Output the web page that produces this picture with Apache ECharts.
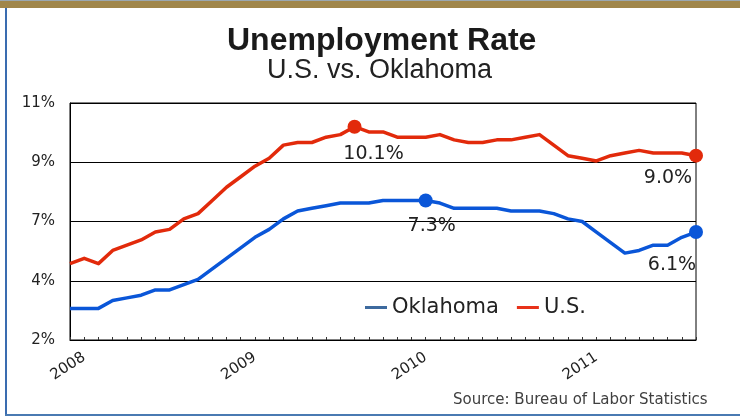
<!DOCTYPE html>
<html>
<head>
<meta charset="utf-8">
<script src="https://cdn.jsdelivr.net/npm/echarts@6/dist/echarts.min.js"></script>
<style>
html,body{margin:0;padding:0;background:#fff;}
#chart{width:740px;height:416px;}
</style>
</head>
<body>
<div id="chart"></div>
<script>
// ---- data ----
var months = [
  '2008-01','2008-02','2008-03','2008-04','2008-05','2008-06','2008-07','2008-08','2008-09','2008-10','2008-11','2008-12',
  '2009-01','2009-02','2009-03','2009-04','2009-05','2009-06','2009-07','2009-08','2009-09','2009-10','2009-11','2009-12',
  '2010-01','2010-02','2010-03','2010-04','2010-05','2010-06','2010-07','2010-08','2010-09','2010-10','2010-11','2010-12',
  '2011-01','2011-02','2011-03','2011-04','2011-05','2011-06','2011-07','2011-08','2011-09'
];
var yearLabels = ['2008','2009','2010','2011'];
var oklahomaRate = [
  3.2,3.2,3.2,3.5,3.6,3.7,3.9,3.9,4.1,4.3,4.7,5.1,
  5.5,5.9,6.2,6.6,6.9,7.0,7.1,7.2,7.2,7.2,7.3,7.3,
  7.3,7.3,7.2,7.0,7.0,7.0,7.0,6.9,6.9,6.9,6.8,6.6,
  6.5,6.1,5.7,5.3,5.4,5.6,5.6,5.9,6.1
];
var usRate = [
  4.9,5.1,4.9,5.4,5.6,5.8,6.1,6.2,6.6,6.8,7.3,7.8,
  8.2,8.6,8.9,9.4,9.5,9.5,9.7,9.8,10.1,9.9,9.9,9.7,
  9.7,9.7,9.8,9.6,9.5,9.5,9.6,9.6,9.7,9.8,9.4,9.0,
  8.9,8.8,9.0,9.1,9.2,9.1,9.1,9.1,9.0
];
var yTickLabels = ['2%','4%','7%','9%','11%'];
var oklahomaHighlights = [25, 44];
var usHighlights = [20, 44];

// ---- styling ----
var FONT = 'DejaVu Sans';
var BLUE = '#0a56d8';
var RED = '#e22a0b';
var labelOffsets = {
  'Oklahoma': {25: [6, 26], 44: [-24, 33]},
  'U.S.': {20: [19, 27], 44: [-28, 22]}
};

function buildData(name, values, highlights, color) {
  return values.map(function (v, i) {
    if (highlights.indexOf(i) >= 0) {
      return {
        value: v,
        symbol: 'circle',
        symbolSize: 14,
        itemStyle: {color: color},
        label: {
          show: true,
          position: 'inside',
          offset: labelOffsets[name][i],
          formatter: function (p) { return p.value.toFixed(1) + '%'; },
          fontFamily: FONT,
          fontSize: 19,
          color: '#222'
        }
      };
    }
    return {value: v, symbol: 'none'};
  });
}

var chart = echarts.init(document.getElementById('chart'), null, {renderer: 'canvas'});
var option = {
  animation: false,
  backgroundColor: '#fff',
  title: [
    {text: 'Unemployment Rate', left: 222, top: 20,
     textStyle: {fontFamily: 'Liberation Sans', fontWeight: 'bold', fontSize: 32, color: '#1a1a1a'}},
    {text: 'U.S. vs. Oklahoma', left: 262, top: 52,
     textStyle: {fontFamily: 'Liberation Sans', fontWeight: 'normal', fontSize: 27, color: '#222'}},
    {text: 'Source: Bureau of Labor Statistics', left: 448, top: 388,
     textStyle: {fontFamily: FONT, fontWeight: 'normal', fontSize: 15, color: '#404040'}}
  ],
  graphic: [
    {type: 'rect', shape: {x: 0, y: 0, width: 740, height: 1}, style: {fill: '#9aa7b0'}, silent: true},
    {type: 'rect', shape: {x: 0, y: 1, width: 740, height: 7}, style: {fill: '#a0864a'}, silent: true},
    {type: 'rect', shape: {x: 5, y: 8, width: 2, height: 408}, style: {fill: '#3a6cb0'}, silent: true},
    {type: 'rect', shape: {x: 5, y: 414, width: 735, height: 2}, style: {fill: '#4a7ab2'}, silent: true}
  ],
  legend: {
    left: 360, top: 292,
    icon: 'rect', itemWidth: 22, itemHeight: 3, itemGap: 18,
    textStyle: {fontFamily: FONT, fontSize: 21, color: '#222'},
    data: [
      {name: 'Oklahoma', itemStyle: {color: '#3d6a9e'}},
      {name: 'U.S.', itemStyle: {color: '#e8321a'}}
    ]
  },
  grid: {left: 70, right: 44, top: 103, bottom: 76, show: true, borderColor: '#000', borderWidth: 1},
  xAxis: {
    type: 'category',
    data: months,
    boundaryGap: false,
    axisLine: {show: true, lineStyle: {color: '#000', width: 1}},
    axisTick: {show: true, inside: true, length: 3, interval: 0, lineStyle: {color: '#333'}},
    axisLabel: {
      interval: function (i) { return i % 12 === 1; },
      formatter: function (v, i) { return yearLabels[Math.floor(i / 12)]; },
      rotate: 33, margin: 16,
      fontFamily: FONT, fontSize: 15, color: '#222'
    },
    splitLine: {show: false}
  },
  yAxis: {
    type: 'value',
    min: 2, max: 11, interval: 2.25,
    axisLine: {show: true, lineStyle: {color: '#000', width: 1}},
    axisTick: {show: false},
    axisLabel: {
      formatter: function (v, i) { return yTickLabels[i]; },
      margin: 15, fontFamily: FONT, fontSize: 15, color: '#222'
    },
    splitLine: {show: true, lineStyle: {color: '#000', width: 1}}
  },
  series: [
    {
      name: 'Oklahoma', type: 'line',
      data: buildData('Oklahoma', oklahomaRate, oklahomaHighlights, BLUE),
      showSymbol: true, showAllSymbol: true,
      lineStyle: {color: BLUE, width: 3.5, join: 'round'},
      itemStyle: {color: BLUE},
      emphasis: {disabled: true}, z: 3
    },
    {
      name: 'U.S.', type: 'line',
      data: buildData('U.S.', usRate, usHighlights, RED),
      showSymbol: true, showAllSymbol: true,
      lineStyle: {color: RED, width: 3.5, join: 'round'},
      itemStyle: {color: RED},
      emphasis: {disabled: true}, z: 3
    }
  ]
};
chart.setOption(option);
</script>
</body>
</html>
